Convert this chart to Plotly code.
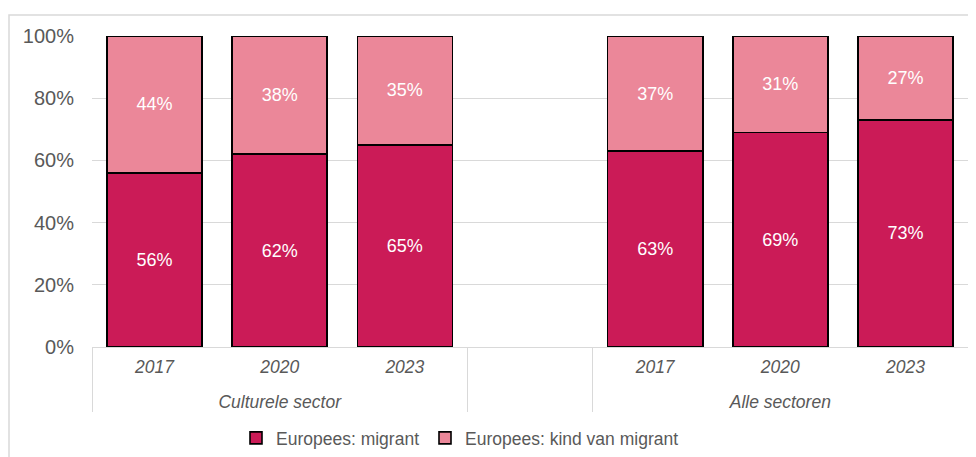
import plotly.graph_objects as go

groups = ["Culturele sector", "Culturele sector", "Culturele sector", " ",
          "Alle sectoren", "Alle sectoren", "Alle sectoren"]
years = ["2017", "2020", "2023", " ", "2017", "2020", "2023"]
migrant = [56, 62, 65, None, 63, 69, 73]
kind = [44, 38, 35, None, 37, 31, 27]
series_names = ["Europees: migrant", "Europees: kind van migrant"]
colors = ["#CB1B57", "#EB8799"]

def lbl(v):
    return [f"{v_}%" if v_ is not None else "" for v_ in v]

LBL = "<span style='font-size:17.5px'>{}</span>"
# a small leading line break pushes the group level a bit lower, as in the reference
group_labels = ["<br>" + LBL.format(g) for g in groups]
year_labels = [LBL.format(y) for y in years]

FONT = "Liberation Sans, Arial"
fig = go.Figure()
for i, (name, vals, col) in enumerate(zip(series_names, [migrant, kind], colors)):
    fig.add_trace(go.Bar(
        x=[group_labels, year_labels],
        y=[v / 100 if v is not None else None for v in vals],
        name=name,
        legend="legend" if i == 0 else "legend2",
        marker=dict(color=col, line=dict(color="#000000", width=1.6)),
        text=lbl(vals),
        textposition="inside",
        insidetextanchor="middle",
        textfont=dict(color="#FFFFFF", size=18, family=FONT),
        cliponaxis=False,
    ))

# the page body has an 8px margin, so figure coords = window coords - 8
OFF = 8
W, H = 976 - OFF, 457 - OFF
ml, mr, mt = 92 - OFF, 8, 36 - OFF
plot_bottom = 347 - OFF
mb = H - plot_bottom
pw = W - ml - mr
ph = H - mt - mb

leg_common = dict(orientation="h", xanchor="left",
                  y=-(438 - 347) / ph, yanchor="middle",
                  font=dict(size=17.5, color="#595959"),
                  itemwidth=30, bgcolor="rgba(0,0,0,0)")

fig.update_layout(
    width=W, height=H,
    barmode="stack",
    bargap=0.24,
    margin=dict(l=ml, r=mr, t=mt, b=mb, autoexpand=False),
    paper_bgcolor="#FFFFFF",
    plot_bgcolor="#FFFFFF",
    font=dict(family=FONT, color="#595959", size=17),
    showlegend=True,
    legend=dict(x=(236 - OFF - ml) / pw, **leg_common),
    legend2=dict(x=(425 - OFF - ml) / pw, **leg_common),
    xaxis=dict(
        type="multicategory",
        automargin=False,
        tickfont=dict(size=15, style="italic", color="#595959"),
        showdividers=True, dividercolor="#D9D9D9", dividerwidth=1,
        showline=True, linecolor="#D9D9D9", linewidth=1,
        ticks="", showgrid=False,
        ticklabelstandoff=7,
    ),
    yaxis=dict(
        automargin=False,
        range=[0, 1],
        tickvals=[0, 0.2, 0.4, 0.6, 0.8, 1.0],
        ticktext=["0%", "20%", "40%", "60%", "80%", "100%"],
        tickfont=dict(size=20, color="#595959"),
        showgrid=True, gridcolor="#D9D9D9", gridwidth=1,
        zeroline=False, showline=False, ticks="",
        ticklabelstandoff=17,
    ),
    shapes=[dict(type="rect", xref="paper", yref="paper",
                 x0=(9 - OFF - ml) / pw, x1=(W + 20 - ml) / pw,
                 y0=-(H + 20 - plot_bottom) / ph, y1=(plot_bottom - (15 - OFF)) / ph,
                 line=dict(color="#D9D9D9", width=1.5), fillcolor="rgba(0,0,0,0)",
                 layer="below")],
)

fig.write_html("out.html")
